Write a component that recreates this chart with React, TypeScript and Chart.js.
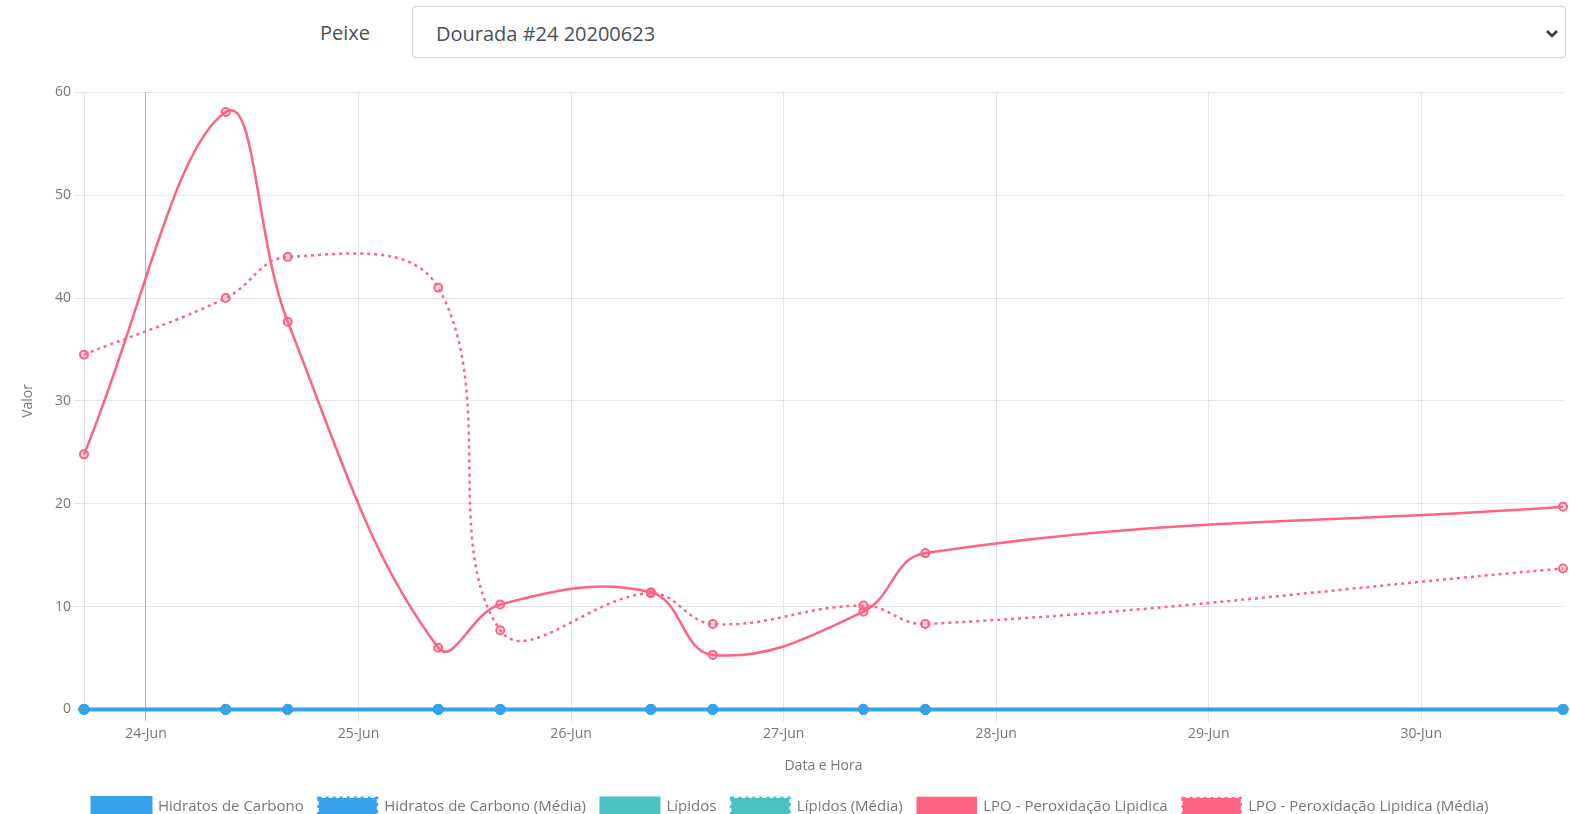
import React, { useEffect, useRef } from "react";
import { Chart, registerables } from "chart.js";

Chart.register(...registerables);

const times: string[] = [
  "2020-06-23T17:00",
  "2020-06-24T09:00",
  "2020-06-24T16:00",
  "2020-06-25T09:00",
  "2020-06-25T16:00",
  "2020-06-26T09:00",
  "2020-06-26T16:00",
  "2020-06-27T09:00",
  "2020-06-27T16:00",
  "2020-06-30T16:00",
];
const hidratos: number[] = [0, 0, 0, 0, 0, 0, 0, 0, 0, 0];
const hidratosMedia: number[] = [0, 0, 0, 0, 0, 0, 0, 0, 0, 0];
const lipidos: number[] = [0, 0, 0, 0, 0, 0, 0, 0, 0, 0];
const lipidosMedia: number[] = [0, 0, 0, 0, 0, 0, 0, 0, 0, 0];
const lpo: number[] = [24.8, 58.1, 37.7, 6.0, 10.2, 11.4, 5.3, 9.5, 15.2, 19.7];
const lpoMedia: number[] = [34.5, 40.0, 44.0, 41.0, 7.7, 11.3, 8.3, 10.1, 8.3, 13.7];
const monthNames: string[] = ["Jan", "Feb", "Mar", "Apr", "May", "Jun", "Jul", "Aug", "Sep", "Oct", "Nov", "Dec"];
const yTicks: number[] = [0, 10, 20, 30, 40, 50, 60];

const BLUE = "rgb(54, 162, 235)";
const TEAL = "rgb(75, 192, 192)";
const PINK = "rgb(255, 99, 132)";
const FONT = "'Open Sans', sans-serif";
const TXT = "#777";
const DAY = 86400000;

function toMs(s: string) {
  return Date.parse(s + ":00Z");
}

function series(values: number[]) {
  return values.map((v, i) => ({ x: toMs(times[i]), y: v }));
}

const legendShift = {
  id: "legendShift",
  afterLayout(chart: any) {
    if (chart.legend) {
      chart.legend.left += 9;
      chart.legend.right += 9;
    }
  },
};

export default function App() {
  const ref = useRef<HTMLCanvasElement | null>(null);

  useEffect(() => {
    if (!ref.current) return;
    const xs = times.map(toMs);
    const mk = (label: string, values: number[], color: string, dashed: boolean, point: any, width: number) => ({
      label,
      data: series(values),
      borderColor: color,
      backgroundColor: color,
      borderWidth: width,
      borderDash: dashed ? [3, 4] : [],
      fill: false,
      tension: 0.4,
      clip: false,
      ...point,
    });
    const bluePt = { pointRadius: 5, pointBackgroundColor: BLUE, pointBorderColor: BLUE, pointBorderWidth: 1 };
    const tealPt = { pointRadius: 5, pointBackgroundColor: TEAL, pointBorderColor: TEAL, pointBorderWidth: 1 };
    const pinkPt = { pointRadius: 4, pointBackgroundColor: "rgba(255, 99, 132, 0.25)", pointBorderColor: PINK, pointBorderWidth: 2 };
    const chart = new Chart(ref.current, {
      type: "line",
      plugins: [legendShift],
      data: {
        datasets: [
          mk("Hidratos de Carbono", hidratos, BLUE, false, bluePt, 4),
          mk("Hidratos de Carbono (Média)", hidratosMedia, BLUE, true, bluePt, 3),
          mk("Lípidos", lipidos, TEAL, false, tealPt, 3),
          mk("Lípidos (Média)", lipidosMedia, TEAL, true, tealPt, 3),
          mk("LPO - Peroxidação Lipidica", lpo, PINK, false, pinkPt, 2.5),
          mk("LPO - Peroxidação Lipidica (Média)", lpoMedia, PINK, true, pinkPt, 2.5),
        ] as any,
      },
      options: {
        animation: false,
        responsive: false,
        maintainAspectRatio: false,
        layout: { padding: { top: 10, right: 7, left: 0, bottom: 0 } },
        plugins: {
          legend: {
            position: "bottom",
            labels: {
              boxWidth: 58,
              boxHeight: 17,
              color: TXT,
              font: { family: FONT, size: 15 },
              padding: 15,
            },
          },
          tooltip: { enabled: false },
        },
        scales: {
          x: {
            type: "linear",
            min: Math.min(...xs),
            max: Math.max(...xs),
            afterBuildTicks: (scale: any) => {
              const lo = Math.ceil(scale.min / DAY) * DAY;
              const t: any[] = [];
              for (let v = lo; v <= scale.max; v += DAY) t.push({ value: v });
              scale.ticks = t;
            },
            ticks: {
              color: TXT,
              font: { family: FONT, size: 14 },
              maxRotation: 0,
              padding: 4,
              callback: (v: any) => {
                const d = new Date(Number(v));
                return String(d.getUTCDate()).padStart(2, "0") + "-" + monthNames[d.getUTCMonth()];
              },
            },
            grid: {
              color: (ctx: any) => (ctx.index === 0 ? "rgba(0,0,0,0.3)" : "rgba(0,0,0,0.1)"),
              tickLength: 12,
            },
            border: { display: false },
            title: {
              display: true,
              text: "Data e Hora",
              color: TXT,
              font: { family: FONT, size: 14 },
              padding: { top: 11, bottom: 9 },
            },
          },
          y: {
            min: 0,
            max: 60,
            afterBuildTicks: (scale: any) => {
              scale.ticks = yTicks.map((v) => ({ value: v }));
            },
            afterFit: (scale: any) => {
              scale.width = 84;
            },
            ticks: {
              color: TXT,
              font: { family: FONT, size: 14 },
              padding: 3,
            },
            grid: { color: "rgba(0,0,0,0.1)", tickLength: 10 },
            border: { color: "rgba(0,0,0,0.1)" },
            title: {
              display: true,
              text: "Valor",
              color: TXT,
              font: { family: FONT, size: 14 },
              padding: { top: 20, bottom: 4 },
            },
          },
        },
      } as any,
    });
    return () => chart.destroy();
  }, []);

  return (
    <div style={{ position: "absolute", left: 0, top: 0, width: 1570, height: 814, overflow: "hidden", background: "#fff" }}>
      <div
        style={{
          position: "absolute",
          left: 300,
          top: 6,
          width: 70,
          height: 54,
          lineHeight: "54px",
          textAlign: "right",
          fontFamily: FONT,
          fontSize: 20,
          color: "#495057",
        }}
      >
        Peixe
      </div>
      <div
        style={{
          position: "absolute",
          left: 412,
          top: 6,
          width: 1154,
          height: 52,
          boxSizing: "border-box",
          border: "1px solid #ced4da",
          borderRadius: 4,
          fontFamily: FONT,
          fontSize: 20,
          color: "#495057",
          lineHeight: "54px",
          paddingLeft: 23,
        }}
      >
        Dourada #24 20200623
        <svg
          width="14"
          height="10"
          viewBox="0 0 14 10"
          style={{ position: "absolute", right: 6, top: 22 }}
        >
          <path d="M2 2 L7 7 L12 2" stroke="#343a40" strokeWidth="2.5" fill="none" />
        </svg>
      </div>
      <canvas
        ref={ref}
        width={1570}
        height={744}
        style={{ position: "absolute", left: 0, top: 81, width: 1570, height: 744 }}
      />
    </div>
  );
}
